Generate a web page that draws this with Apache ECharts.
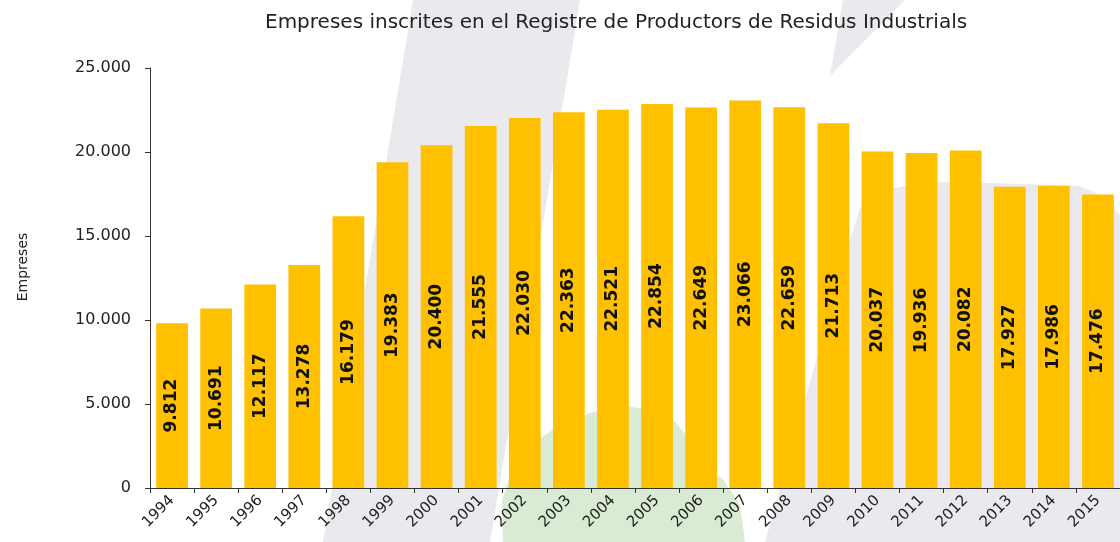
<!DOCTYPE html>
<html lang="ca">
<head>
    <meta charset="UTF-8">
    <title>Empreses inscrites</title>
    <script src="https://cdn.jsdelivr.net/npm/echarts@6/dist/echarts.min.js"></script>
    <style>
        html, body {
            margin: 0;
            padding: 0;
            background: #fff;
        }
        #chart {
            width: 1120px;
            height: 542px;
        }
    </style>
</head>
<body>
<div id="chart"></div>
<script>
    var years = ['1994', '1995', '1996', '1997', '1998', '1999', '2000', '2001', '2002', '2003', '2004',
        '2005', '2006', '2007', '2008', '2009', '2010', '2011', '2012', '2013', '2014', '2015'];
    var empreses = [9812, 10691, 12117, 13278, 16179, 19383, 20400, 21555, 22030, 22363, 22521,
        22854, 22649, 23066, 22659, 21713, 20037, 19936, 20082, 17927, 17986, 17476];
    var yTicks = [0, 5000, 10000, 15000, 20000, 25000];

    // formato catalan: punto como separador de miles
    function fmt(v) {
        return String(v).replace(/\B(?=(\d{3})+(?!\d))/g, '.');
    }

    var chart = echarts.init(document.getElementById('chart'));
    var grey = '#eaeaee';
    var green = '#d9ebd3';
    var option = {
        backgroundColor: '#fff',
        animation: false,
        title: {
            text: 'Empreses inscrites en el Registre de Productors de Residus Industrials',
            left: 260,
            top: 8,
            textStyle: {
                fontFamily: 'DejaVu Sans',
                fontSize: 20,
                fontWeight: 'normal',
                color: '#222'
            }
        },
        // marca d'aigua del fons
        graphic: [
            {type: 'polygon', z: -100, shape: {points: [[413, 0], [580, 0], [490, 542], [323, 542]]}, style: {fill: grey}},
            {type: 'polygon', z: -100, shape: {points: [[843, 0], [905, 0], [830, 76]]}, style: {fill: grey}},
            {
                type: 'polygon', z: -100,
                shape: {points: [[765, 542], [850, 240], [860, 208], [880, 191], [920, 183], [960, 182],
                    [1080, 186], [1100, 195], [1120, 215], [1120, 542]]},
                style: {fill: grey}
            },
            {
                type: 'polygon', z: -99,
                shape: {points: [[503, 542], [502, 500], [512, 470], [530, 445], [560, 425], [590, 413],
                    [620, 405], [650, 410], [675, 422], [692, 442], [705, 462], [725, 482], [740, 505], [745, 542]]},
                style: {fill: green}
            }
        ],
        grid: {
            left: 150,
            top: 68,
            width: 979,
            height: 420
        },
        xAxis: {
            type: 'category',
            data: years,
            axisLine: {lineStyle: {color: '#333'}},
            axisTick: {show: true, length: 5, lineStyle: {color: '#333'}},
            axisLabel: {
                rotate: 45,
                margin: 10,
                interval: 0,
                fontFamily: 'DejaVu Sans',
                fontSize: 15,
                color: '#222'
            }
        },
        yAxis: {
            type: 'value',
            min: 0,
            max: 25000,
            interval: 5000,
            name: 'Empreses',
            nameLocation: 'middle',
            nameRotate: 90,
            nameGap: 120,
            nameTextStyle: {
                fontFamily: 'DejaVu Sans',
                fontSize: 14,
                color: '#222',
                padding: [0, 0, 0, 22]
            },
            axisLine: {show: true, lineStyle: {color: '#333'}},
            axisTick: {show: true, length: 5, lineStyle: {color: '#333'}},
            splitLine: {show: false},
            axisLabel: {
                margin: 19,
                fontFamily: 'DejaVu Sans',
                fontSize: 16,
                color: '#222',
                formatter: function (v) {
                    return yTicks.indexOf(v) >= 0 ? fmt(v) : '';
                }
            }
        },
        series: [
            {
                type: 'bar',
                data: empreses,
                barCategoryGap: '28%',
                itemStyle: {color: '#FFC000'},
                label: {
                    show: true,
                    position: 'inside',
                    rotate: 90,
                    fontFamily: 'DejaVu Sans',
                    fontWeight: 'bold',
                    fontSize: 17,
                    color: '#111',
                    formatter: function (p) {
                        return fmt(p.value);
                    }
                }
            }
        ]
    };
    chart.setOption(option);
</script>
</body>
</html>
